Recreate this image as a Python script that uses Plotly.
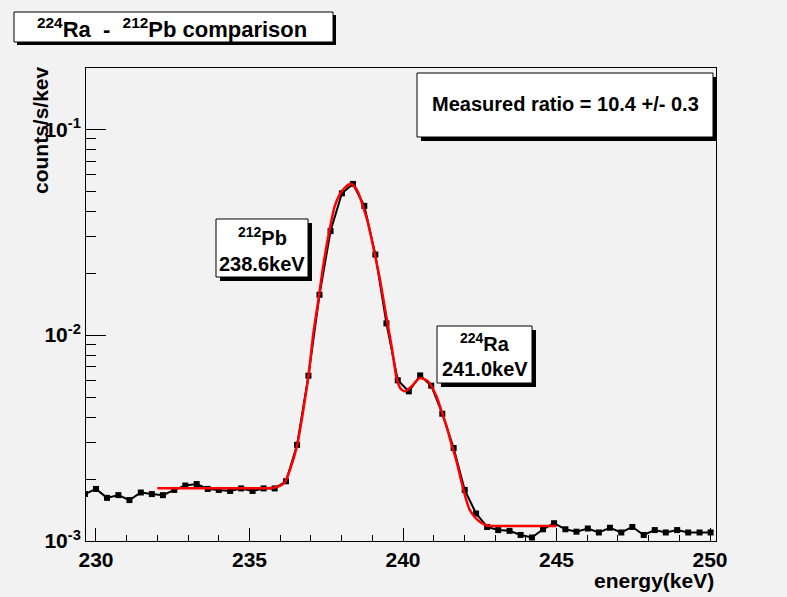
import plotly.graph_objects as go

# ---------------- data ----------------
energy = [229.64, 230.00, 230.36, 230.73, 231.09, 231.46, 231.82, 232.18, 232.55, 232.91,
          233.28, 233.64, 234.00, 234.37, 234.73, 235.10, 235.46, 235.82, 236.19, 236.55,
          236.92, 237.28, 237.64, 238.01, 238.37, 238.74, 239.10, 239.46, 239.83, 240.19,
          240.56, 240.92, 241.28, 241.65, 242.01, 242.38, 242.74, 243.10, 243.47, 243.83,
          244.20, 244.56, 244.92, 245.29, 245.65, 246.02, 246.38, 246.74, 247.11, 247.47,
          247.84, 248.20, 248.56, 248.93, 249.29, 249.66, 250.02]
counts = [1.69e-3, 1.79e-3, 1.62e-3, 1.67e-3, 1.58e-3, 1.72e-3, 1.69e-3, 1.67e-3, 1.77e-3, 1.86e-3,
          1.89e-3, 1.79e-3, 1.77e-3, 1.75e-3, 1.80e-3, 1.75e-3, 1.80e-3, 1.80e-3, 1.95e-3, 2.93e-3,
          6.35e-3, 1.57e-2, 3.20e-2, 4.88e-2, 5.42e-2, 4.24e-2, 2.46e-2, 1.14e-2, 6.03e-3, 5.33e-3,
          6.37e-3, 5.68e-3, 4.15e-3, 2.83e-3, 1.77e-3, 1.36e-3, 1.17e-3, 1.13e-3, 1.12e-3, 1.07e-3,
          1.04e-3, 1.14e-3, 1.22e-3, 1.14e-3, 1.11e-3, 1.15e-3, 1.10e-3, 1.16e-3, 1.10e-3, 1.17e-3,
          1.07e-3, 1.13e-3, 1.10e-3, 1.13e-3, 1.10e-3, 1.10e-3, 1.10e-3]

fit_energy = [232.0, 233.0, 234.0, 235.0, 235.7, 235.95, 236.15, 236.31, 236.55, 236.75,
              236.92, 237.08, 237.25, 237.40, 237.60, 237.78, 237.95, 238.11, 238.29, 238.45,
              238.54, 238.70, 238.87, 239.05, 239.25, 239.45, 239.63, 239.79, 239.92, 240.06,
              240.28, 240.55, 240.82, 241.09, 241.25, 241.42, 241.58, 241.74, 241.90, 242.05,
              242.17, 242.35, 242.50, 242.72, 243.0, 244.0, 245.0]
fit_counts = [1.805e-3, 1.805e-3, 1.805e-3, 1.806e-3, 1.81e-3, 1.84e-3, 1.93e-3, 2.2e-3, 2.9e-3, 4.3e-3,
              6.3e-3, 1.02e-2, 1.5e-2, 2.16e-2, 3.2e-2, 4.24e-2, 4.85e-2, 5.2e-2, 5.43e-2, 5.2e-2,
              4.92e-2, 4.2e-2, 3.45e-2, 2.6e-2, 1.86e-2, 1.25e-2, 8.8e-3, 6.2e-3, 5.5e-3, 5.33e-3,
              5.64e-3, 6.19e-3, 5.96e-3, 5.04e-3, 4.3e-3, 3.6e-3, 2.95e-3, 2.45e-3, 1.95e-3, 1.6e-3,
              1.42e-3, 1.3e-3, 1.24e-3, 1.19e-3, 1.183e-3, 1.183e-3, 1.183e-3]

x_ticks = [230, 235, 240, 245, 250]
y_ticks = [1e-3, 1e-2, 1e-1]
y_ticktext = ["10<sup>-3</sup>", "10<sup>-2</sup>", "10<sup>-1</sup>"]

title_text = "<sup>224</sup>Ra  -  <sup>212</sup>Pb comparison"
ratio_text = "Measured ratio = 10.4 +/- 0.3"
pb_label = ["<sup>212</sup>Pb", "238.6keV"]
ra_label = ["<sup>224</sup>Ra", "241.0keV"]

# ---------------- layout geometry ----------------
W, H = 787, 597
L, R, T, B = 86, 71, 68, 56
PW, PH = W - L - R, H - T - B
FONT = "Liberation Sans"
BG = "#f2f2f2"


def px(X):
    return (X - L) / PW


def py(Y):
    return (H - B - Y) / PH


fig = go.Figure()
fig.add_trace(go.Scatter(x=energy, y=counts, mode="lines+markers",
                         line=dict(color="black", width=2),
                         marker=dict(symbol="square", size=6, color="black"),
                         showlegend=False, cliponaxis=True))
fig.add_trace(go.Scatter(x=fit_energy, y=fit_counts, mode="lines",
                         line=dict(color="#ff0000", width=2.5, shape="spline", smoothing=0.6),
                         showlegend=False))

shapes = []
annotations = []


def pave(x0, y0, x1, y1, off=4):
    shapes.append(dict(type="rect", xref="paper", yref="paper",
                       x0=px(x0 + off), x1=px(x1 + off), y0=py(y1 + off), y1=py(y0 + off),
                       fillcolor="black", line=dict(width=0), layer="above"))
    shapes.append(dict(type="rect", xref="paper", yref="paper",
                       x0=px(x0), x1=px(x1), y0=py(y1), y1=py(y0),
                       fillcolor="white", line=dict(color="black", width=1), layer="above"))


def text(X, Y, s, size=20, angle=0, xanchor="center"):
    annotations.append(dict(xref="paper", yref="paper", x=px(X), y=py(Y), text=s,
                            showarrow=False, xanchor=xanchor, yanchor="middle",
                            textangle=angle,
                            font=dict(family=FONT, size=size, color="black", weight="bold")))


pave(14, 12, 333, 42, off=3)
text(172, 28, title_text, size=22)
pave(417, 73, 713, 137, off=4)
text(565, 104, ratio_text, size=20)
pave(216, 219, 308, 277, off=4)
text(262, 236, pb_label[0], size=20)
text(262, 264, pb_label[1], size=20)
pave(437, 326, 532, 383, off=4)
text(485, 342, ra_label[0], size=20)
text(485, 369, ra_label[1], size=20)
text(40, 130, "counts/s/kev", size=21, angle=-90)
text(716, 580, "energy(keV)", size=21, xanchor="right")

fig.update_layout(
    width=W, height=H, autosize=False,
    margin=dict(l=L, r=R, t=T, b=B, pad=0),
    paper_bgcolor=BG, plot_bgcolor=BG,
    font=dict(family=FONT, size=21, color="black", weight="bold"),
    shapes=shapes, annotations=annotations,
    xaxis=dict(range=[229.675, 250.195], tickvals=x_ticks, ticks="inside", ticklen=13,
               tickcolor="black", tickwidth=1, showline=True, linecolor="black", linewidth=1,
               mirror=True, showgrid=False, zeroline=False,
               tickfont=dict(family=FONT, size=21, weight="bold"),
               minor=dict(dtick=1, ticks="inside", ticklen=6, tickcolor="black", showgrid=False)),
    yaxis=dict(type="log", range=[-3, -0.703], tickvals=y_ticks, ticktext=y_ticktext,
               ticks="inside", ticklen=20, tickcolor="black", tickwidth=1,
               showline=True, linecolor="black", linewidth=1, mirror=True,
               showgrid=False, zeroline=False,
               tickfont=dict(family=FONT, size=21, weight="bold"),
               minor=dict(dtick="D1", ticks="inside", ticklen=10, tickcolor="black", showgrid=False)),
)

fig.write_html("out.html")
